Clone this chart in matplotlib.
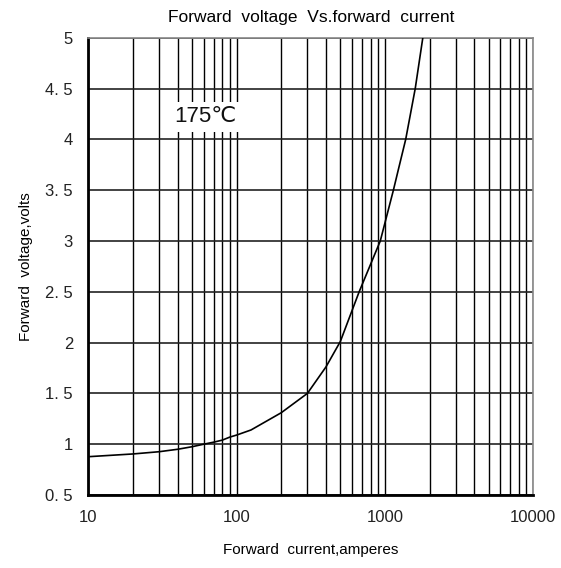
import matplotlib.pyplot as plt
from matplotlib.ticker import FixedLocator, NullFormatter

plt.rcParams['font.family'] = ['Liberation Sans', 'DejaVu Sans']

# curve (current in A, voltage in V)
current = [10, 20, 30, 40, 50, 60, 70, 80, 90, 100, 125, 200, 300, 400, 500,
           670, 930, 1140, 1230, 1380, 1600, 1800]
voltage = [0.877, 0.904, 0.926, 0.95, 0.975, 1.0, 1.02, 1.04, 1.07, 1.09, 1.14,
           1.31, 1.5, 1.76, 2.01, 2.5, 3.0, 3.5, 3.7, 4.0, 4.5, 5.0]

x_ticks = [10, 100, 1000, 10000]
x_tick_labels = ["10", "100", "1000", "10000"]
y_ticks = [0.5, 1, 1.5, 2, 2.5, 3, 3.5, 4, 4.5, 5]
y_tick_labels = ["0. 5", "1", "1. 5", "2", "2. 5", "3", "3. 5", "4", "4. 5", "5"]
minor_x = [m * d for d in [10, 100, 1000] for m in range(2, 10)]

fig = plt.figure(figsize=(5.61, 5.68), dpi=100)
ax = fig.add_axes([0.1574, 0.1285, 0.7932, 0.8051])

ax.set_xscale('log')
ax.set_xlim(10, 10000)
ax.set_ylim(0.5, 5)

ax.xaxis.set_major_locator(FixedLocator(x_ticks))
ax.set_xticklabels(x_tick_labels)
ax.xaxis.set_minor_locator(FixedLocator(minor_x))
ax.xaxis.set_minor_formatter(NullFormatter())
ax.set_yticks(y_ticks)
ax.set_yticklabels(y_tick_labels)

ax.grid(True, which='both', axis='x', color='black', linewidth=1.0)
ax.grid(True, which='major', axis='y', color='#222222', linewidth=1.2)
ax.tick_params(axis='both', which='both', length=0, pad=11, labelsize=12, colors='#222222')

ax.plot(current, voltage, color='black', linewidth=1.2, zorder=3)

for side in ['left', 'bottom']:
    ax.spines[side].set_color('black')
    ax.spines[side].set_linewidth(2)
for side in ['top', 'right']:
    ax.spines[side].set_color('#888888')
    ax.spines[side].set_linewidth(1.2)

ax.text(38, 4.22, "175\u2103", fontsize=16, color='#111111', ha='left', va='center',
        bbox=dict(facecolor='white', edgecolor='none', pad=3), zorder=4)

ax.set_title("Forward  voltage  Vs.forward  current", fontsize=12.5, pad=11)
ax.set_xlabel("Forward  current,amperes", fontsize=11, labelpad=13)
ax.set_ylabel("Forward  voltage,volts", fontsize=11, labelpad=9)

fig.savefig("out.png", dpi=100)
